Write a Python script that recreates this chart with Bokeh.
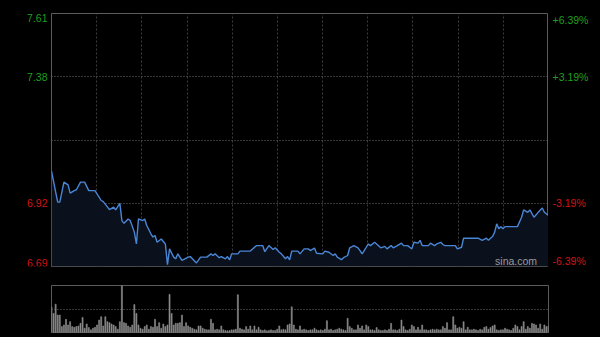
from bokeh.plotting import figure
from bokeh.layouts import column, row
from bokeh.models import Range1d, Grid, FixedTicker, ColumnDataSource
from bokeh.core.properties import value, field
from bokeh.embed import file_html
from bokeh.resources import INLINE

# ---------------- data ----------------
pre_close = 7.15
y_lo, y_hi = 6.69, 7.61
left_ticks = [7.61, 7.38, 6.92, 6.69]
left_labels = ["7.61", "7.38", "6.92", "6.69"]
right_labels = ["+6.39%", "+3.19%", "-3.19%", "-6.39%"]
hgrid_vals = [7.38, 7.15, 6.92]
n_sections = 11
last_minute = 240

price_min = [0, 3, 4, 6, 8, 9, 11, 12, 14, 16, 18, 21, 24, 25, 28, 30, 31, 33, 34, 35,
             37, 38, 40, 41, 42, 44, 45, 46, 48, 49, 50, 51, 53, 55, 56, 57, 59, 60, 61, 63,
             66, 67, 70, 72, 75, 77, 78, 79, 81, 82, 84, 85, 86, 87, 90, 91, 96, 99, 102, 103,
             105, 107, 108, 110, 111, 113, 114, 115, 116, 119, 120, 122, 124, 125, 127, 128, 131, 132, 134, 136,
             137, 138, 140, 141, 143, 144, 146, 148, 149, 150, 151, 152, 153, 154, 156, 157, 159, 161, 162, 164,
             165, 167, 169, 170, 172, 173, 174, 175, 177, 178, 179, 182, 183, 185, 186, 188, 189, 190, 195, 196,
             198, 199, 200, 206, 208, 210, 211, 212, 213, 214, 215, 216, 217, 218, 219, 225, 227, 228, 230, 231,
             233, 235, 237, 238, 240]
prices = [7.037, 6.924, 6.924, 6.997, 6.987, 6.957, 6.966, 6.969, 6.997, 6.997, 6.966, 6.966, 6.930, 6.926, 6.897, 6.906, 6.896, 6.920, 6.857, 6.847,
          6.863, 6.857, 6.815, 6.772, 6.863, 6.857, 6.863, 6.839, 6.809, 6.797, 6.803, 6.778, 6.790, 6.772, 6.697, 6.754, 6.724, 6.718, 6.736, 6.712,
          6.724, 6.726, 6.703, 6.724, 6.724, 6.736, 6.730, 6.736, 6.722, 6.726, 6.718, 6.726, 6.714, 6.736, 6.736, 6.746, 6.746, 6.766, 6.766, 6.744,
          6.766, 6.752, 6.758, 6.742, 6.736, 6.718, 6.726, 6.714, 6.746, 6.746, 6.736, 6.754, 6.754, 6.748, 6.757, 6.738, 6.736, 6.746, 6.742, 6.730,
          6.736, 6.724, 6.715, 6.722, 6.730, 6.758, 6.766, 6.758, 6.748, 6.736, 6.748, 6.760, 6.772, 6.766, 6.778, 6.772, 6.758, 6.763, 6.754, 6.766,
          6.758, 6.766, 6.775, 6.766, 6.766, 6.760, 6.754, 6.778, 6.775, 6.785, 6.766, 6.766, 6.775, 6.766, 6.772, 6.778, 6.770, 6.766, 6.766, 6.754,
          6.760, 6.793, 6.793, 6.793, 6.785, 6.793, 6.785, 6.793, 6.799, 6.815, 6.845, 6.827, 6.835, 6.827, 6.835, 6.835, 6.869, 6.896, 6.887, 6.896,
          6.869, 6.887, 6.903, 6.887, 6.875]

volumes = [78, 58, 86, 53, 53, 18, 23, 40, 23, 33,
           18, 16, 18, 20, 28, 46, 13, 26, 15, 8,
           13, 16, 23, 38, 48, 20, 48, 33, 30, 26,
           23, 18, 10, 33, 143, 30, 28, 20, 16, 23,
           85, 58, 23, 13, 10, 18, 23, 10, 18, 16,
           40, 18, 30, 13, 26, 18, 23, 116, 58, 23,
           28,
           28, 30, 53, 18, 30, 20, 16, 13, 10, 8,
           20, 20, 13, 10, 8, 8, 40, 28, 8, 10,
           8, 20, 8, 6, 5, 6, 8, 8, 10, 115,
           13, 10, 8, 18, 10, 20, 8, 20, 8, 16,
           8, 6, 8, 5, 6, 8, 6, 6, 10, 20,
           8, 10, 8, 23, 26, 78, 23, 10, 8,
           20, 8, 10, 8, 6, 8, 8, 13, 8, 6,
           8, 6, 10, 36, 8, 10, 6, 8, 10, 13,
           10, 8, 6, 43, 18, 13, 8, 8, 23, 13,
           20, 8, 23, 18, 8, 8, 6, 15, 8, 6,
           6, 8, 6, 10, 28, 8, 8, 6, 10, 38,
           18, 8, 6, 10, 23, 18, 8, 16, 8, 23, 8,
           8, 6, 8, 10, 8, 10, 8, 8, 18, 13,
           30, 8, 8, 48, 23, 13, 16, 13, 33,
           8, 16, 8, 8, 10, 8, 6, 10, 8, 16, 18, 10, 15, 20, 23, 8, 6, 8, 8, 13, 10, 8, 6, 13, 23, 18, 8, 18,
           33,
           10, 18, 13, 28, 26, 23, 13, 26, 10, 23, 18, 20]
vol_minutes = list(range(len(volumes)))
vol_max = 143

# ---------------- styles ----------------
BG = "#000000"
FRAME = "#5c5c5c"
GREEN = "#1f9f1f"
RED = "#d01414"
FONT = "Liberation Sans"
H_MAIN = 270

vgrid = [last_minute * k / n_sections for k in range(1, n_sections)]

def base_fig(w, h, xr, yr, top, bottom, left=0, right=0, outline=None):
    f = figure(width=w, height=h, x_range=xr, y_range=yr,
               x_axis_location=None, y_axis_location=None,
               toolbar_location=None, output_backend="svg",
               min_border_left=left, min_border_right=right,
               min_border_top=top, min_border_bottom=bottom,
               background_fill_color=BG, border_fill_color=BG,
               outline_line_color=outline)
    f.grid.visible = False
    return f

xr = Range1d(0, last_minute)
yr = Range1d(y_lo, y_hi)

# main price panel
p = base_fig(497, H_MAIN, xr, yr, 13, 4, outline=FRAME)
p.add_layout(Grid(dimension=0, ticker=FixedTicker(ticks=vgrid),
                  grid_line_color="#3c3c3c", grid_line_dash="2 2"))
p.add_layout(Grid(dimension=1, ticker=FixedTicker(ticks=hgrid_vals),
                  grid_line_color="#6a6a6a", grid_line_dash="1 2"))
p.varea(x=price_min, y1=y_lo, y2=prices, fill_color="#0a111c", fill_alpha=1.0)
p.line(x=price_min, y=prices, line_color="#4a86d6", line_width=1.4)
p.text(x=[234.5], y=[y_lo], text=["sina.com"], text_align="right",
       text_baseline="bottom", text_color="#9a9a9a", text_font_size="10.5px",
       text_font=value(FONT))

# label columns
bases = ["top" if v == y_hi else ("bottom" if v == y_lo else "middle") for v in left_ticks]
cols = [GREEN if v > pre_close else RED for v in left_ticks]
src = ColumnDataSource(dict(y=left_ticks, l=left_labels, r=right_labels, b=bases, c=cols))

pl = base_fig(51, H_MAIN, Range1d(0, 51), yr, 13, 4)
pl.text(x=47, y="y", text="l", source=src, text_align="right",
        text_baseline=field("b"), text_color=field("c"),
        text_font_size="10.5px", text_font=value(FONT))

pr = base_fig(52, H_MAIN, Range1d(0, 52), yr, 13, 4)
pr.text(x=4, y="y", text="r", source=src, text_align="left",
        text_baseline=field("b"), text_color=field("c"),
        text_font_size="10.5px", text_font=value(FONT))

# volume panel
pv = base_fig(600, 67, xr, Range1d(0, vol_max), 15, 5, left=51, right=52, outline=FRAME)
pv.add_layout(Grid(dimension=1, ticker=FixedTicker(ticks=[vol_max / 2]),
                   grid_line_color="#6a6a6a", grid_line_dash="1 2"))
pv.vbar(x=vol_minutes, top=volumes, width=0.5, bottom=0,
        fill_color="#8c8c8c", line_color="#8c8c8c", line_width=0.6)

layout = column(row(pl, p, pr, spacing=0), pv, spacing=0)

html = file_html(layout, INLINE)
html = html.replace("<body>", '<body style="margin:0;background:#000;">')
open("out.html", "w").write(html)
